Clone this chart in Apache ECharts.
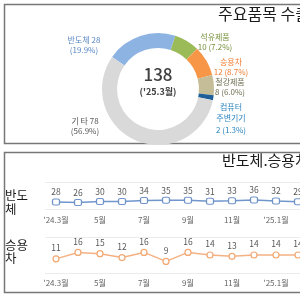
<!DOCTYPE html>
<html>
<head>
<meta charset="utf-8">
<script src="https://cdn.jsdelivr.net/npm/echarts@6/dist/echarts.min.js"></script>
<style>
  html, body { margin: 0; padding: 0; width: 300px; height: 295px; overflow: hidden; background: #fff; }
  #main { width: 340px; height: 295px; }
</style>
</head>
<body>
<div id="main"></div>
<script>
// 품목별 비중 (도넛)
var itemNames = ['반도체', '석유제품', '승용차', '철강제품', '컴퓨터 주변기기', '기 타'];
var itemValues = [28, 10, 12, 8, 2, 78];
var itemPcts = ['19.9%', '7.2%', '8.7%', '6.0%', '1.3%', '56.9%'];
var totalText = '138';
var totalSub = "('25.3월)";

// 월별 추이
var months = ["'24.3월", '4월', '5월', '6월', '7월', '8월', '9월', '10월', '11월', '12월', "'25.1월", '2월', '3월'];
var semiData = [28, 26, 30, 30, 34, 35, 35, 31, 33, 36, 32, 29, 30];
var carData = [11, 16, 15, 12, 16, 9, 16, 14, 13, 14, 14, 14, 14];

var font = '"Noto Sans CJK KR", "Noto Sans", sans-serif';
var sliceColors = ['#8db3e2', '#9bbb59', '#f79646', '#c4bd97', '#1f5f99', '#d9d9d9'];
var labelColors = ['#5a87c4', '#76923c', '#ef7f33', '#6f6f52', '#2e86c1', '#595959'];
// 라벨 위치 (중앙 기준)
var labelPos = [[84, 40], [215, 37], [231, 62], [230, 82], [231, 106], [85, 121]];

var chart = echarts.init(document.getElementById('main'));

var labelGraphics = [];
for (var i = 0; i < itemNames.length; i++) {
    var txt;
    if (i == 0 || i == 5) {
        txt = itemNames[i] + ' ' + itemValues[i] + '\n(' + itemPcts[i] + ')';
    } else if (i == 4) {
        txt = '컴퓨터\n주변기기\n' + itemValues[i] + ' (' + itemPcts[i] + ')';
    } else {
        txt = itemNames[i] + '\n' + itemValues[i] + ' (' + itemPcts[i] + ')';
    }
    labelGraphics.push({
        type: 'text',
        x: labelPos[i][0],
        y: labelPos[i][1] - 5,
        style: {
            text: txt,
            fill: labelColors[i],
            font: '8px ' + font,
            lineHeight: (i == 4) ? 11.5 : 10,
            align: 'center',
            verticalAlign: 'top'
        }
    });
}

var option = {
    animation: false,
    textStyle: {fontFamily: font},
    graphic: [
        {type: 'rect', shape: {x: 4.5, y: 4.5, width: 400, height: 139}, style: {fill: 'none', stroke: '#777', lineWidth: 1.5}},
        {type: 'rect', shape: {x: 4.5, y: 152.5, width: 400, height: 140}, style: {fill: 'none', stroke: '#777', lineWidth: 1.5}},
        {type: 'text', x: 218, y: 6, style: {text: '주요품목 수출', fill: '#1a1a1a', font: '16px ' + font}},
        {type: 'text', x: 222, y: 153, style: {text: '반도체.승용차', fill: '#1a1a1a', font: '15px ' + font}},
        {type: 'text', x: 158, y: 75, style: {text: totalText, fill: '#404040', font: '500 17px ' + font, align: 'center', verticalAlign: 'middle'}},
        {type: 'text', x: 158, y: 92, style: {text: totalSub, fill: '#404040', font: 'bold 9px ' + font, align: 'center', verticalAlign: 'middle'}},
        {type: 'text', x: 5, y: 188, style: {text: '반도\n체', fill: '#1a1a1a', font: '12.5px ' + font, lineHeight: 14}},
        {type: 'text', x: 5, y: 239, style: {text: '승용\n차', fill: '#1a1a1a', font: '12.5px ' + font, lineHeight: 13}}
    ].concat(labelGraphics),
    grid: [
        {left: 45, top: 182, width: 286, height: 27},
        {left: 45, top: 237, width: 286, height: 36}
    ],
    xAxis: [0, 1].map(function (g) {
        return {
            type: 'category',
            gridIndex: g,
            data: months,
            boundaryGap: true,
            axisLine: {show: false},
            axisTick: {show: false},
            axisLabel: {interval: 1, fontSize: 8, color: '#666', margin: g == 0 ? 7 : 6}
        };
    }),
    yAxis: [
        {type: 'value', gridIndex: 0, min: 0, max: 108, interval: 108, axisLabel: {show: false},
            axisLine: {show: false}, axisTick: {show: false}, splitLine: {lineStyle: {color: '#ececec'}}},
        {type: 'value', gridIndex: 1, min: 0, max: 28, interval: 28, axisLabel: {show: false},
            axisLine: {show: false}, axisTick: {show: false}, splitLine: {lineStyle: {color: '#ececec'}}}
    ],
    series: [
        {
            type: 'pie',
            center: [158, 89],
            radius: [41, 56],
            startAngle: 145,
            clockwise: true,
            silent: true,
            label: {show: false},
            labelLine: {show: false},
            data: itemNames.map(function (n, i) {
                return {name: n, value: itemValues[i], itemStyle: {color: sliceColors[i]}};
            })
        },
        {
            type: 'line',
            xAxisIndex: 0,
            yAxisIndex: 0,
            data: semiData,
            symbol: 'roundRect',
            symbolSize: [7, 6],
            lineStyle: {color: '#7096cc', width: 1.5},
            itemStyle: {color: '#fff', borderColor: '#6f93c9', borderWidth: 1.2},
            label: {show: true, position: 'top', distance: 2, fontSize: 8.5, color: '#595959'}
        },
        {
            type: 'line',
            xAxisIndex: 1,
            yAxisIndex: 1,
            data: carData,
            symbol: 'circle',
            symbolSize: 6,
            lineStyle: {color: '#f4b183', width: 1.5},
            itemStyle: {color: '#fff', borderColor: '#f2a872', borderWidth: 1.2},
            label: {show: true, position: 'top', distance: 3, fontSize: 8.5, color: '#595959'}
        }
    ]
};
chart.setOption(option);
</script>
</body>
</html>
